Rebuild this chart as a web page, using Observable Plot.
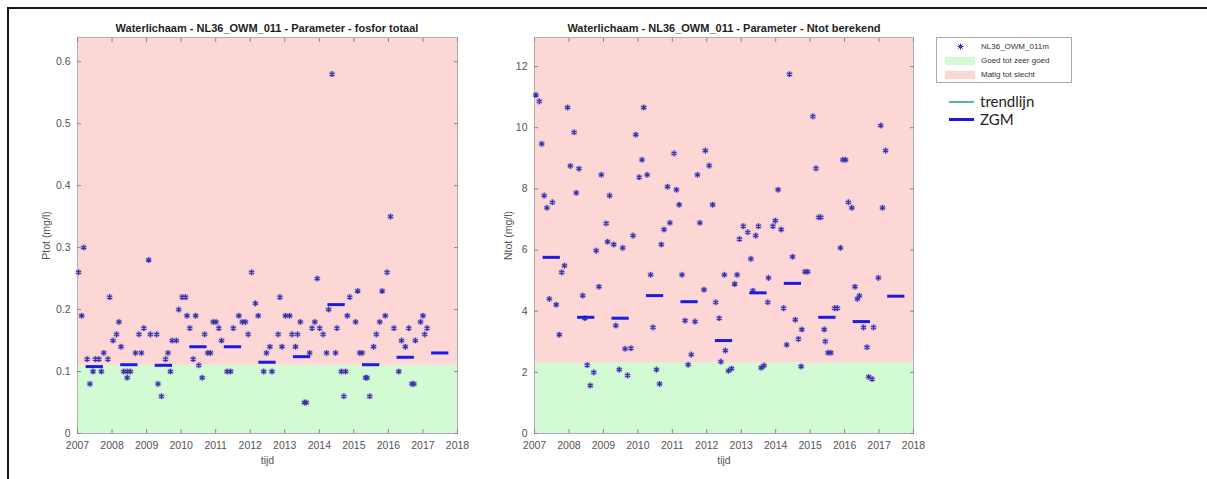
<!DOCTYPE html>
<html><head><meta charset="utf-8">
<script src="https://cdn.jsdelivr.net/npm/d3@7"></script>
<script src="https://cdn.jsdelivr.net/npm/@observablehq/plot@0.6"></script>
<style>
body{margin:0;background:#fff;}
#page{position:relative;width:1207px;height:479px;overflow:hidden;background:#fff;font-family:"Liberation Sans",Arial,sans-serif;}
#border{position:absolute;left:7px;top:7px;right:-5px;bottom:-5px;border-top:2px solid #151515;border-left:2px solid #151515;}
.chart{position:absolute;top:0;}
.title{position:absolute;top:22px;font-weight:bold;font-size:11px;color:#1e1e1e;white-space:nowrap;transform:translateX(-50%);}
#legend{position:absolute;left:936px;top:37px;width:134px;height:44px;border:1px solid #a8a8a8;background:#fff;font-size:8px;color:#333;}
.lrow{position:absolute;left:0;height:13px;line-height:13px;}
.lrow span{position:absolute;left:44px;white-space:nowrap;}
.sw{position:absolute;left:8px;top:3px;width:30px;height:8px;}
.big{position:absolute;font-family:Lato,"Open Sans",sans-serif;font-size:15px;color:#222;white-space:nowrap;}
.bl{position:absolute;left:949px;width:25px;}
</style></head>
<body><div id="page">
<div id="border"></div>
<div class="title" style="left:267px">Waterlichaam - NL36_OWM_011 - Parameter - fosfor totaal</div>
<div class="title" style="left:724px">Waterlichaam - NL36_OWM_011 - Parameter - Ntot berekend</div>
<div id="legend">
  <div class="lrow" style="top:2px;width:134px"><svg style="position:absolute;left:20px;top:3px" width="7" height="7"><g stroke="#3a30a8" stroke-width="1"><line x1="3.5" y1="0.5" x2="3.5" y2="6.5"/><line x1="0.5" y1="3.5" x2="6.5" y2="3.5"/><line x1="1.3" y1="1.3" x2="5.7" y2="5.7"/><line x1="5.7" y1="1.3" x2="1.3" y2="5.7"/></g></svg><span>NL36_OWM_011m</span></div>
  <div class="lrow" style="top:16px;width:134px"><div class="sw" style="background:#d3fbd3"></div><span>Goed tot zeer goed</span></div>
  <div class="lrow" style="top:30px;width:134px"><div class="sw" style="background:#fdd6d6"></div><span>Matig tot slecht</span></div>
</div>
<div class="bl" style="top:101px;height:2px;background:#4fb8aa"></div>
<div class="big" style="left:980px;top:92px">trendlijn</div>
<div class="bl" style="top:118px;height:3px;background:#1a1ad8"></div>
<div class="big" style="left:980px;top:110px">ZGM</div>
<div id="c1" class="chart" style="left:0"></div>
<div id="c2" class="chart" style="left:470px"></div>
</div>
<script>
// ---- data ----
const jaren = [2007,2008,2009,2010,2011,2012,2013,2014,2015,2016,2017,2018];
const zgmJaren = [2007,2008,2009,2010,2011,2012,2013,2014,2015,2016,2017];

const ptotTijd = [2007.03,2007.12,2007.18,2007.28,2007.36,2007.45,2007.52,2007.62,2007.69,2007.76,2007.88,2007.93,
 2008.03,2008.13,2008.20,2008.26,2008.34,2008.44,2008.44,2008.53,2008.68,2008.78,2008.85,2008.92,
 2009.06,2009.11,2009.29,2009.33,2009.43,2009.55,2009.62,2009.69,2009.74,2009.86,2009.93,
 2010.03,2010.13,2010.17,2010.25,2010.35,2010.42,2010.51,2010.61,2010.68,2010.77,2010.85,2010.93,
 2011.01,2011.09,2011.17,2011.33,2011.43,2011.51,2011.67,2011.77,2011.86,2011.94,
 2012.04,2012.15,2012.23,2012.39,2012.47,2012.57,2012.63,2012.81,2012.86,2012.92,
 2013.02,2013.14,2013.21,2013.31,2013.37,2013.45,2013.57,2013.62,2013.72,2013.79,2013.87,2013.94,
 2014.01,2014.11,2014.21,2014.27,2014.37,2014.47,2014.51,2014.64,2014.71,2014.76,2014.81,2014.88,
 2015.05,2015.11,2015.17,2015.24,2015.34,2015.38,2015.46,2015.57,2015.65,2015.75,2015.82,2015.91,2015.96,
 2016.06,2016.16,2016.30,2016.38,2016.49,2016.59,2016.68,2016.74,2016.78,2016.93,
 2017.00,2017.05,2017.12];
const ptotWaarde = [0.26,0.19,0.30,0.12,0.08,0.10,0.12,0.12,0.10,0.13,0.12,0.22,
 0.15,0.16,0.18,0.14,0.10,0.10,0.09,0.10,0.13,0.16,0.13,0.17,
 0.28,0.16,0.16,0.08,0.06,0.12,0.13,0.10,0.15,0.15,0.20,
 0.22,0.22,0.19,0.17,0.12,0.19,0.11,0.09,0.16,0.13,0.13,0.18,
 0.18,0.17,0.15,0.10,0.10,0.17,0.19,0.18,0.18,0.16,
 0.26,0.21,0.19,0.10,0.13,0.14,0.10,0.16,0.22,0.14,
 0.19,0.19,0.16,0.14,0.16,0.18,0.05,0.05,0.13,0.17,0.18,0.25,
 0.17,0.16,0.13,0.20,0.58,0.13,0.17,0.10,0.06,0.10,0.19,0.22,
 0.18,0.23,0.13,0.13,0.09,0.09,0.06,0.14,0.16,0.18,0.23,0.19,0.26,
 0.35,0.17,0.10,0.15,0.14,0.17,0.08,0.08,0.15,0.18,
 0.19,0.16,0.17];
const ptotZgm = [0.108,0.111,0.110,0.140,0.140,0.115,0.124,0.208,0.111,0.123,0.130];

const ntotTijd = [2007.04,2007.14,2007.21,2007.28,2007.36,2007.43,2007.52,2007.63,2007.72,2007.79,2007.87,2007.96,
 2008.04,2008.15,2008.21,2008.29,2008.40,2008.46,2008.53,2008.62,2008.72,2008.79,2008.87,2008.94,
 2009.08,2009.12,2009.18,2009.30,2009.36,2009.46,2009.56,2009.63,2009.70,2009.80,2009.86,2009.94,
 2010.04,2010.12,2010.17,2010.27,2010.37,2010.44,2010.54,2010.63,2010.68,2010.76,2010.86,2010.93,
 2011.05,2011.12,2011.20,2011.28,2011.37,2011.46,2011.55,2011.66,2011.73,2011.80,2011.92,2011.96,
 2012.07,2012.17,2012.26,2012.36,2012.41,2012.51,2012.54,2012.63,2012.72,2012.81,2012.88,2012.95,
 2013.06,2013.19,2013.28,2013.34,2013.42,2013.50,2013.58,2013.66,2013.77,2013.79,2013.92,2013.99,
 2014.07,2014.16,2014.23,2014.32,2014.40,2014.49,2014.57,2014.66,2014.74,2014.76,2014.85,2014.93,
 2015.08,2015.17,2015.25,2015.31,2015.41,2015.44,2015.52,2015.60,2015.71,2015.79,2015.88,2015.95,
 2016.03,2016.11,2016.21,2016.30,2016.37,2016.43,2016.55,2016.65,2016.70,2016.80,2016.84,2016.98,
 2017.05,2017.10,2017.19];
const ntotWaarde = [11.07,10.86,9.47,7.78,7.38,4.40,7.56,4.21,3.23,5.27,5.49,10.66,
 8.75,9.85,7.87,8.66,4.51,3.77,2.24,1.57,2.00,5.98,4.80,8.46,
 6.87,6.27,7.78,6.18,3.53,2.09,6.07,2.77,1.90,2.79,6.47,9.77,
 8.38,8.95,10.66,8.46,5.19,3.47,2.09,1.62,6.18,6.67,8.07,6.89,
 9.16,7.97,7.48,5.19,3.69,2.25,2.58,3.66,8.46,6.89,4.70,9.25,
 8.76,7.48,4.29,3.77,2.35,5.19,2.71,2.05,2.12,4.89,5.19,6.36,
 6.78,6.58,5.71,4.67,6.47,6.78,2.15,2.22,4.29,5.09,6.78,6.96,
 7.97,6.67,4.10,2.90,11.75,5.78,3.72,3.09,2.19,3.40,5.29,5.29,
 10.37,8.67,7.07,7.07,3.40,3.01,2.64,2.64,4.10,4.10,6.07,8.95,
 8.95,7.56,7.38,4.80,4.40,4.50,3.47,2.82,1.85,1.78,3.47,5.09,
 10.07,7.38,9.25];
const ntotZgm = [5.76,3.80,3.77,4.51,4.31,3.04,4.60,4.91,3.80,3.66,4.49];

// ---- drawing ----
const kleurGoed = "#d3fbd3", kleurMatig = "#fdd6d6";
function panel({tijd, waarde, zgm, ymax, grens, yticks, ylabel, width, marginLeft, marginRight, labelOffset}) {
  const pts = tijd.map((t, i) => ({t, v: waarde[i]}));
  const zg = zgmJaren.map((j, i) => ({a: j + 0.25, b: j + 0.75, v: zgm[i]}));
  const zones = [{lo: 0, hi: grens, c: kleurGoed}, {lo: grens, hi: ymax, c: kleurMatig}];
  return Plot.plot({
    width, height: 479, marginLeft, marginRight, marginTop: 37, marginBottom: 46,
    style: {fontFamily: "'Liberation Sans', Arial, sans-serif", fontSize: "10.5px", color: "#555", background: "transparent", overflow: "visible"},
    x: {domain: [2007, 2018]},
    y: {domain: [0, ymax]},
    marks: [
      Plot.rect(zones, {x1: () => 2007, x2: () => 2018, y1: "lo", y2: "hi", fill: "c"}),
      Plot.frame({stroke: "#b0b0b0"}),
      Plot.axisX({anchor: "bottom", ticks: jaren, tickFormat: d => String(d), tickSize: 0, tickPadding: 8, label: "tijd", labelAnchor: "center", labelArrow: "none", labelOffset: 30}),
      Plot.axisX({anchor: "bottom", ticks: jaren, tickSize: -4, text: null, label: null, stroke: "#888"}),
      Plot.axisX({anchor: "top", ticks: jaren, tickSize: -4, text: null, label: null, stroke: "#888"}),
      Plot.axisY({anchor: "left", ticks: yticks, tickFormat: d => String(d), tickSize: 0, tickPadding: 7, label: ylabel, labelAnchor: "center", labelArrow: "none", labelOffset: labelOffset}),
      Plot.axisY({anchor: "left", ticks: yticks, tickSize: -4, text: null, label: null, stroke: "#888"}),
      Plot.axisY({anchor: "right", ticks: yticks, tickSize: -4, text: null, label: null, stroke: "#888"}),
      Plot.dot(pts, {x: "t", y: "v", r: 3.3, fill: "#a39be6", fillOpacity: 0.55}),
      Plot.dot(pts, {x: "t", y: "v", r: 2.6, symbol: "asterisk", stroke: "#3a2fa0", strokeWidth: 1.2}),
      Plot.ruleY(zg, {y: "v", x1: "a", x2: "b", stroke: "#1c1ce0", strokeWidth: 3})
    ]
  });
}
document.getElementById("c1").append(panel({
  tijd: ptotTijd, waarde: ptotWaarde, zgm: ptotZgm, ymax: 0.639, grens: 0.11,
  yticks: [0, 0.1, 0.2, 0.3, 0.4, 0.5, 0.6], ylabel: "Ptot (mg/l)",
  width: 470, marginLeft: 77, marginRight: 13, labelOffset: 35
}));
document.getElementById("c2").append(panel({
  tijd: ntotTijd, waarde: ntotWaarde, zgm: ntotZgm, ymax: 12.95, grens: 2.3,
  yticks: [0, 2, 4, 6, 8, 10, 12], ylabel: "Ntot (mg/l)",
  width: 460, marginLeft: 64, marginRight: 17, labelOffset: 30
}));
</script>
</body></html>
